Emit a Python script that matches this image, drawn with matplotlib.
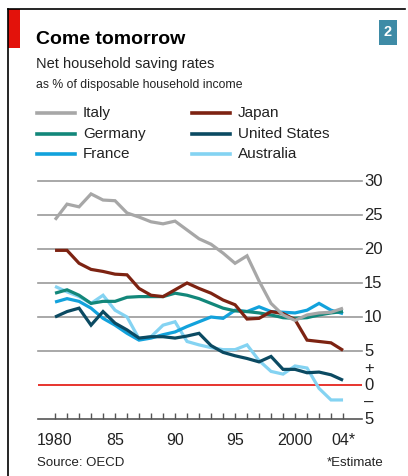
import numpy as np
import matplotlib
matplotlib.use("Agg")
import matplotlib.pyplot as plt
from matplotlib.lines import Line2D
from matplotlib.patches import Rectangle

plt.rcParams['font.family'] = ['Liberation Sans', 'DejaVu Sans']

years = list(range(1980, 2005))
italy = [24.3, 26.6, 26.2, 28.1, 27.2, 27.1, 25.3, 24.7, 24.0, 23.7, 24.1, 22.8, 21.5, 20.7,
         19.4, 17.9, 19.0, 15.3, 12.0, 10.3, 9.5, 10.3, 10.6, 10.7, 11.3]
japan = [19.8, 19.8, 17.9, 17.0, 16.7, 16.3, 16.2, 14.2, 13.2, 13.0, 14.0, 15.0, 14.2, 13.5,
         12.5, 11.8, 9.7, 9.8, 10.8, 10.5, 9.6, 6.6, 6.4, 6.2, 5.1]
germany = [13.5, 14.0, 13.2, 12.0, 12.3, 12.3, 12.9, 13.0, 13.0, 13.0, 13.5, 13.2, 12.7, 12.0,
           11.3, 10.9, 10.8, 10.6, 10.3, 9.9, 9.8, 9.9, 10.3, 10.6, 10.8]
usa = [10.0, 10.8, 11.3, 8.8, 10.8, 9.1, 8.1, 6.9, 7.1, 7.1, 6.9, 7.2, 7.6, 5.8,
       4.8, 4.3, 3.9, 3.4, 4.2, 2.3, 2.3, 1.8, 1.9, 1.5, 0.7]
france = [12.2, 12.7, 12.3, 11.3, 9.8, 8.8, 7.6, 6.6, 6.9, 7.4, 7.8, 8.6, 9.3, 10.0,
          9.8, 11.0, 10.8, 11.5, 10.8, 10.7, 10.6, 11.0, 12.0, 11.0, 10.5]
australia = [14.5, 13.7, 13.0, 12.0, 13.2, 11.0, 10.0, 6.8, 7.1, 8.8, 9.3, 6.4, 5.9, 5.5,
             5.2, 5.2, 5.9, 3.6, 2.0, 1.6, 2.8, 2.5, -0.5, -2.2, -2.2]

series = [("Italy", italy, "#a7a7a7"), ("Japan", japan, "#7d2312"),
          ("Germany", germany, "#12877a"), ("United States", usa, "#0b4a62"),
          ("France", france, "#12a2dc"), ("Australia", australia, "#84d3f2")]
draw_order = ["Australia", "France", "Germany", "United States", "Japan", "Italy"]

W, H = 408, 476
fig = plt.figure(figsize=(W / 100, H / 100), dpi=100)
fig.patch.set_facecolor("white")

def fx(x):
    return x / W

def fy(y):
    return 1 - y / H

# frame, red tab and chart number
fig.add_artist(Line2D([fx(8), fx(8)], [fy(9), 0], color="black", lw=1.2))
fig.add_artist(Line2D([fx(8), fx(405)], [fy(9), fy(9)], color="black", lw=1.2))
fig.add_artist(Rectangle((fx(8), fy(48)), fx(12), 39 / H, color="#e3120b", lw=0))
fig.add_artist(Rectangle((fx(379), fy(45)), fx(18), 25 / H, color="#3e8ba6", lw=0))
fig.text(fx(388), fy(32.5), "2", color="white", fontsize=10.5, fontweight="bold",
         ha="center", va="center")

fig.text(fx(36), fy(39), "Come tomorrow", fontsize=14, fontweight="bold", va="center")
fig.text(fx(36), fy(64), "Net household saving rates", fontsize=10.5, va="center",
         color="#222222")
fig.text(fx(36), fy(85), "as % of disposable household income", fontsize=8.8, va="center",
         color="#222222")

# legend
colors = {name: c for name, _, c in series}
for i, name in enumerate(["Italy", "Germany", "France"]):
    y = 113 + 20.5 * i
    fig.add_artist(Line2D([fx(37), fx(75)], [fy(y), fy(y)], color=colors[name], lw=2.6))
    fig.text(fx(83), fy(y + 0.5), name, fontsize=11, va="center", color="#222222")
for i, name in enumerate(["Japan", "United States", "Australia"]):
    y = 113 + 20.5 * i
    fig.add_artist(Line2D([fx(192), fx(230)], [fy(y), fy(y)], color=colors[name], lw=2.6))
    fig.text(fx(238), fy(y + 0.5), name, fontsize=11, va="center", color="#222222")

ax = fig.add_axes([fx(38), fy(419), fx(324), 238 / H])
ax.set_xlim(1978.58, 2005.58)
ax.set_ylim(-5, 30)
for s in ["top", "left", "right"]:
    ax.spines[s].set_visible(False)
ax.spines["bottom"].set_color("#555555")
ax.spines["bottom"].set_linewidth(1.2)

for v in range(5, 31, 5):
    ax.axhline(v, color="#9a9a9a", lw=1.2, zorder=1, clip_on=False)
ax.axhline(0, color="#e3120b", lw=1.2, zorder=1)

data = {name: vals for name, vals, _ in series}
for name in draw_order:
    ax.plot(years, data[name], color=colors[name], lw=2.3, zorder=3,
            solid_joinstyle="miter", solid_capstyle="butt")

ax.set_xticks(years, minor=True)
ax.set_xticks([1980, 1985, 1990, 1995, 2000, 2004])
ax.set_xticklabels(["1980", "85", "90", "95", "2000", "04*"], fontsize=11.5,
                   color="#222222")
ax.tick_params(axis="x", which="both", direction="in", length=4, width=1,
               color="#555555", pad=10)
ax.set_yticks([])

right_labels = [(30, "30"), (25, "25"), (20, "20"), (15, "15"), (10, "10"), (5, "5"),
                (2.5, "+"), (0, "0"), (-2.5, "\u2013"), (-5, "5")]
for v, lab in right_labels:
    ax.text(2005.75, v, lab, fontsize=12, ha="left", va="center", clip_on=False,
            color="#222222")

fig.text(fx(37), fy(463), "Source: OECD", fontsize=9.5, va="center", color="#222222")
fig.text(fx(383), fy(463), "*Estimate", fontsize=9.5, va="center", ha="right",
         color="#222222")

fig.savefig("out.png", dpi=100, facecolor="white")
